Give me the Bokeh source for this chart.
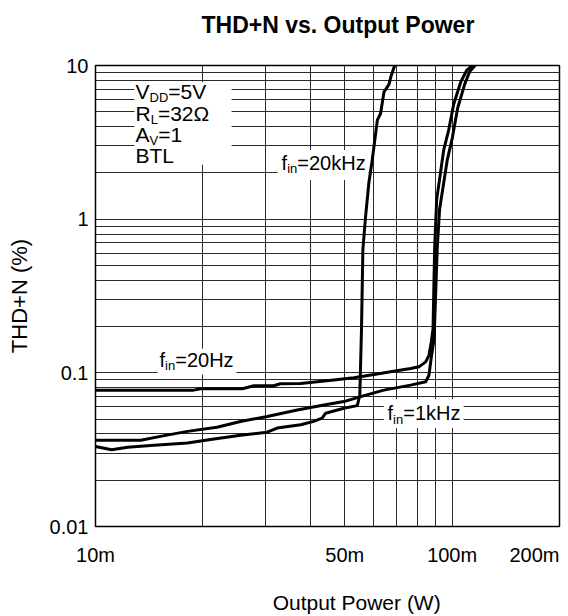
from bokeh.plotting import figure
from bokeh.models import FixedTicker, Label, BoxAnnotation, Title
from bokeh.embed import file_html
from bokeh.resources import INLINE

# ---------------- data ----------------
# Output power in W, THD+N in %
power_20hz = [0.0100, 0.0187, 0.0197, 0.0258, 0.0278, 0.0316, 0.0330, 0.0376, 0.0466,
              0.0530, 0.0604, 0.0672, 0.0765, 0.0807, 0.0843, 0.0861, 0.0874, 0.0884,
              0.0893, 0.0905, 0.0947, 0.0978, 0.1010, 0.1056, 0.1098, 0.1139]
thd_20hz = [0.0769, 0.0769, 0.0788, 0.0788, 0.0824, 0.0824, 0.0849, 0.0853, 0.0897,
            0.0929, 0.0976, 0.1016, 0.1067, 0.1094, 0.1179, 0.130, 0.1587, 0.1935,
            0.637, 1.34, 2.82, 3.80, 5.59, 7.76, 9.28, 10.0]

power_1khz = [0.0100, 0.0134, 0.0152, 0.0181, 0.0219, 0.0255, 0.0303, 0.0368, 0.0437,
              0.0497, 0.0554, 0.0643, 0.0765, 0.0843, 0.0861, 0.0873, 0.0890, 0.0908,
              0.0922, 0.0969, 0.1001, 0.1036, 0.1084, 0.1120, 0.1160]
thd_1khz = [0.0364, 0.0364, 0.0386, 0.0416, 0.0443, 0.0482, 0.0520, 0.0573, 0.0617,
            0.0650, 0.0700, 0.0772, 0.0832, 0.0875, 0.0965, 0.1238, 0.1667, 0.637,
            1.155, 2.43, 3.37, 5.27, 7.54, 9.15, 10.0]

power_20khz = [0.0100, 0.0111, 0.0123, 0.0146, 0.0181, 0.0215, 0.0255, 0.0303, 0.0323,
               0.0376, 0.0409, 0.0432, 0.0442, 0.0497, 0.0542, 0.0551, 0.0557, 0.0562,
               0.0572, 0.0584, 0.0597, 0.0617, 0.0630, 0.0644, 0.0665, 0.0675, 0.0690]
thd_20khz = [0.0332, 0.0316, 0.0328, 0.0338, 0.0349, 0.0371, 0.0392, 0.0411, 0.0437,
             0.0459, 0.0483, 0.0507, 0.0546, 0.0588, 0.0612, 0.0717, 0.1935, 0.637,
             1.045, 1.718, 2.43, 4.41, 4.87, 6.72, 7.54, 8.61, 10.0]

x_ticks = [0.01, 0.05, 0.1]
x_tick_labels = ["10m", "50m", "100m"]
x_last_tick = 0.2
x_last_label = "200m"
y_ticks = [0.01, 0.1, 1, 10]
y_tick_labels = ["0.01", "0.1", "1", "10"]
x_grid = [0.02, 0.03, 0.04, 0.05, 0.06, 0.07, 0.08, 0.09, 0.1]
y_grid = [m * d for d in (0.01, 0.1, 1) for m in range(1, 10)] + [10]

FONT = "Liberation Sans"
# Arial / Liberation Sans advance widths (per 1000 em)
ADV = {'V': 667, 'D': 722, '=': 584, '5': 556, 'R': 722, 'L': 556, '3': 556, '2': 556,
       'Ω': 768, 'A': 667, '1': 556, 'B': 667, 'T': 611, 'f': 278, 'i': 222, 'n': 556,
       '0': 556, 'k': 500, 'H': 722, 'z': 500}

p = figure(width=568, height=616, x_axis_type="log", y_axis_type="log",
           x_range=(0.01, 0.2), y_range=(0.01, 10),
           output_backend="svg", toolbar_location=None,
           min_border_left=95, min_border_right=9, min_border_top=65, min_border_bottom=87)
p.background_fill_color = "white"
p.border_fill_color = "white"
p.outline_line_color = "black"
p.outline_line_width = 1.5

# last x tick label (200m), right-aligned at the frame edge; kept in a side panel
# so that it is not clipped to the plot frame
p.add_layout(Label(x=x_last_tick, y=0.01, text=x_last_label, text_align="right",
                   text_baseline="top", y_offset=-17, text_font=FONT,
                   text_font_size="20px", text_color="black"), "above")
# spacer between frame and title
p.add_layout(Title(text=" ", text_font_size="1px", standoff=3), "above")

p.title.text = "THD+N vs. Output Power"
p.title.align = "left"
p.title.offset = 106
p.title.text_font = FONT
p.title.text_font_size = "23px"
p.title.text_font_style = "bold"
p.title.text_color = "black"
p.title.standoff = 0

# grids
p.xgrid.ticker = FixedTicker(ticks=x_grid, minor_ticks=[])
p.ygrid.ticker = FixedTicker(ticks=y_grid, minor_ticks=[])
for g in (p.xgrid, p.ygrid):
    g.grid_line_color = "#2a2a2a"
    g.grid_line_width = 1
    g.grid_line_alpha = 1.0


def style_axis(ax):
    ax.axis_line_color = None
    ax.major_tick_out = 0
    ax.major_tick_in = 0
    ax.minor_tick_out = 0
    ax.minor_tick_in = 0
    ax.major_label_text_font = FONT
    ax.major_label_text_font_size = "20px"
    ax.major_label_text_color = "black"


# axes
p.xaxis.ticker = FixedTicker(ticks=x_ticks, minor_ticks=[])
p.xaxis.major_label_overrides = dict(zip(x_ticks, x_tick_labels))
p.yaxis.ticker = FixedTicker(ticks=y_ticks, minor_ticks=[])
p.yaxis.major_label_overrides = dict(zip(y_ticks, y_tick_labels))
style_axis(p.xaxis[0])
style_axis(p.yaxis[0])
p.xaxis.major_label_standoff = 17
p.yaxis.major_label_standoff = 7
p.xaxis.axis_label = "\u00a0" * 10 + "Output Power (W)"
p.xaxis.axis_label_text_font = FONT
p.xaxis.axis_label_text_font_size = "21px"
p.xaxis.axis_label_text_font_style = "normal"
p.xaxis.axis_label_text_color = "black"
p.xaxis.axis_label_standoff = 22
p.yaxis.axis_label = "THD+N (%)"
p.yaxis.axis_label_text_font = FONT
p.yaxis.axis_label_text_font_size = "22px"
p.yaxis.axis_label_text_font_style = "normal"
p.yaxis.axis_label_text_color = "black"
p.yaxis.axis_label_standoff = 15

# white backgrounds behind the annotations
boxes = [(0.01286, 0.02407, 2.26, 7.8),
         (0.0324, 0.0583, 1.80, 2.82),
         (0.01493, 0.02486, 0.0976, 0.1437),
         (0.0643, 0.1077, 0.0437, 0.0673)]
for l, r, b, t in boxes:
    p.add_layout(BoxAnnotation(left=l, right=r, bottom=b, top=t, fill_color="white",
                               fill_alpha=1.0, line_alpha=0, level="underlay"))

# curves
for xs, ys in ((power_20hz, thd_20hz), (power_1khz, thd_1khz), (power_20khz, thd_20khz)):
    p.line(xs, ys, line_color="black", line_width=3, line_join="round")


def rich(x, y, pieces, size, sub_size, dy=0.0, lift=5):
    cursor = 0.0
    for text, sub in pieces:
        fs = sub_size if sub else size
        p.add_layout(Label(x=x, y=y, text=text, x_offset=cursor,
                           y_offset=lift - dy - (6 if sub else 0), text_font=FONT,
                           text_font_size=f"{fs}px", text_color="black",
                           text_align="left", text_baseline="alphabetic"))
        cursor += sum(ADV.get(c, 556) for c in text) * fs / 1000.0


cond = [
    [("V", False), ("DD", True), ("=5V", False)],
    [("R", False), ("L", True), ("=32Ω", False)],
    [("A", False), ("V", True), ("=1", False)],
    [("BTL", False)],
]
for i, line in enumerate(cond):
    rich(0.01295, 6.07, line, 21, 13, dy=21.3 * i, lift=7)

rich(0.03325, 2.16, [("f", False), ("in", True), ("=20kHz", False)], 20, 13)
rich(0.01512, 0.1132, [("f", False), ("in", True), ("=20Hz", False)], 20, 13)
rich(0.0659, 0.0507, [("f", False), ("in", True), ("=1kHz", False)], 20, 13)

open("out.html", "w").write(file_html(p, INLINE))
